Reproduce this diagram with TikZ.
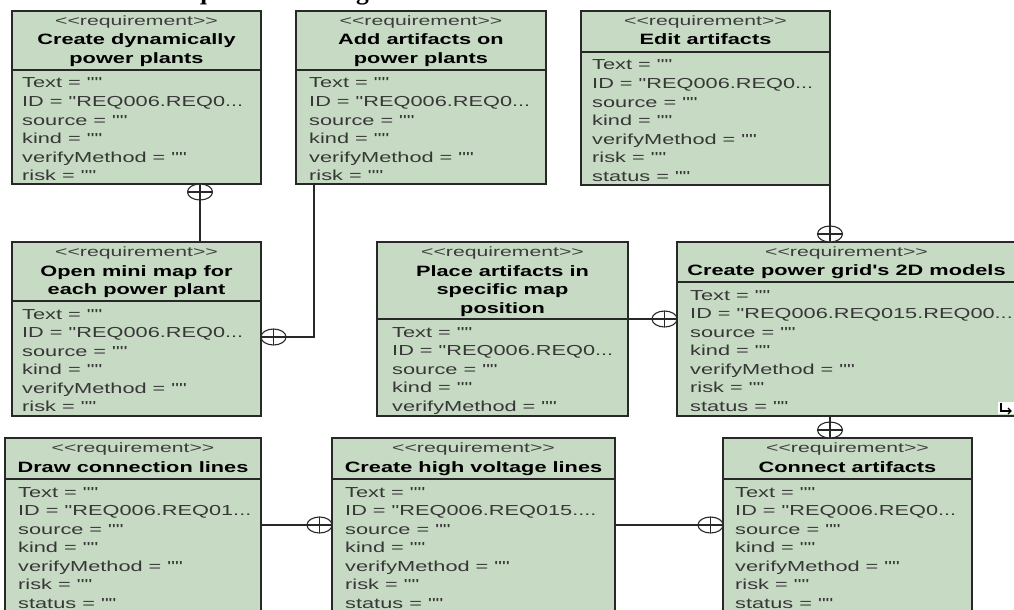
\documentclass[tikz,border=0pt]{standalone}
\usepackage{fontspec}
\setmainfont{Liberation Sans}
\newfontfamily\attrface{Liberation Sans}[FakeStretch=1.5]
\newfontfamily\stereoface{Liberation Sans}[FakeStretch=1.57]
\newfontfamily\titleface{Liberation Sans}[FakeStretch=1.45]
\newfontfamily\headface{Liberation Serif}
\usetikzlibrary{shapes.geometric}

\definecolor{reqfill}{RGB}{199,219,196}
\definecolor{framec}{RGB}{40,40,40}
\definecolor{attrc}{RGB}{55,55,55}
\definecolor{stereoc}{RGB}{60,60,60}

\tikzset{
  reqbox/.style={draw=framec, line width=1.3pt, fill=reqfill, anchor=north west,
    inner sep=0pt, outer sep=0pt},
  sepline/.style={draw=framec, line width=1.1pt},
  attr/.style={anchor=base west, inner sep=0pt, text=attrc,
    font=\attrface\fontsize{14.5}{17}\selectfont},
  stereo/.style={anchor=base, inner sep=0pt, text=stereoc,
    font=\stereoface\fontsize{13.5}{16}\selectfont},
  rtitle/.style={anchor=base, inner sep=0pt, text=black,
    font=\titleface\bfseries\fontsize{15}{18}\selectfont},
  contain/.style={ellipse, draw=framec, line width=1.1pt, fill=white,
    minimum width=25pt, minimum height=16pt, inner sep=0pt, outer sep=0pt,
    path picture={\draw[framec, line width=1.1pt]
      (path picture bounding box.north) -- (path picture bounding box.south)
      (path picture bounding box.west) -- (path picture bounding box.east);}},
  conn/.style={draw=framec, line width=1.2pt},
}

% requirement box: name, left, top, right, bottom, compartment line
\newcommand\reqbox[6]{%
  \node[reqbox, minimum width=#4pt-#2pt, minimum height=#5pt-#3pt] (#1) at (#2,#3) {};
  \draw[sepline] (#2,#6) -- (#4,#6);
}
% attribute compartment: box name, x, first baseline, ID value, number of lines
\newcommand\attrblock[5]{%
  \node[attr] (#1-a1) at (#2,#3) {Text = ""};
  \node[attr] (#1-a2) at (#2,#3+18.5) {ID = "#4};
  \node[attr] (#1-a3) at (#2,#3+37) {source = ""};
  \node[attr] (#1-a4) at (#2,#3+55.5) {kind = ""};
  \node[attr] (#1-a5) at (#2,#3+74) {verifyMethod = ""};
  \ifnum#5>5 \node[attr] (#1-a6) at (#2,#3+92.5) {risk = ""};\fi
  \ifnum#5>6 \node[attr] (#1-a7) at (#2,#3+111) {status = ""};\fi
}
\newcommand\stereotxt{<\kern0pt<requirement>\kern0pt>}

\begin{document}
\begin{tikzpicture}[x=1pt,y=-1pt]
\useasboundingbox (0,0) rectangle (1014,610);
\clip (0,0) rectangle (1014,610);

% heading above the diagram
\node[anchor=base west, inner sep=0pt,
  font=\headface\bfseries\fontsize{25.5}{30}\selectfont] (head) at (163,-0.5) {Requirements diagram};

% ---- top row
\reqbox{b1}{12}{11}{261}{184}{70}
\node[stereo] (b1-s) at (136.5,25.5) {\stereotxt};
\node[rtitle] (b1-t1) at (136.5,45) {Create dynamically};
\node[rtitle] (b1-t2) at (136.5,63.5) {power plants};
\attrblock{b1}{22}{88}{REQ006.REQ0...}{6}

\reqbox{b2}{296}{11}{546}{184}{70}
\node[stereo] (b2-s) at (421,25.5) {\stereotxt};
\node[rtitle] (b2-t1) at (421,45) {Add artifacts on};
\node[rtitle] (b2-t2) at (421,63.5) {power plants};
\attrblock{b2}{309}{88}{REQ006.REQ0...}{6}

\reqbox{b3}{581}{11}{830}{185}{52}
\node[stereo] (b3-s) at (705.5,25.5) {\stereotxt};
\node[rtitle] (b3-t1) at (705.5,44.5) {Edit artifacts};
\attrblock{b3}{592}{70}{REQ006.REQ0...}{7}

% ---- middle row
\reqbox{b4}{12}{242}{261}{416}{301}
\node[stereo] (b4-s) at (136.5,256.5) {\stereotxt};
\node[rtitle] (b4-t1) at (136.5,276) {Open mini map for};
\node[rtitle] (b4-t2) at (136.5,294.5) {each power plant};
\attrblock{b4}{22}{319}{REQ006.REQ0...}{6}

\reqbox{b5}{377}{242}{628}{416}{319}
\node[stereo] (b5-s) at (502.5,256.5) {\stereotxt};
\node[rtitle] (b5-t1) at (502.5,276) {Place artifacts in};
\node[rtitle] (b5-t2) at (502.5,294.5) {specific map};
\node[rtitle] (b5-t3) at (502.5,313) {position};
\attrblock{b5}{392}{337}{REQ006.REQ0...}{5}

\reqbox{b6}{677}{242}{1016}{416}{282}
\node[stereo] (b6-s) at (846.5,256.5) {\stereotxt};
\node[rtitle] (b6-t1) at (846.5,275.5) {Create power grid's 2D models};
\attrblock{b6}{690}{300}{REQ006.REQ015.REQ00...}{7}
% link marker in the corner
\fill[white] (998,402) rectangle (1016,414);
\draw[black, line width=1.5pt] (1001,403) -- (1001,411) -- (1011,411);
\draw[black, line width=1.1pt] (1008,408) -- (1011,411) -- (1008,414);

% ---- bottom row
\reqbox{b7}{5}{438}{261}{640}{479}
\node[stereo] (b7-s) at (133,452.5) {\stereotxt};
\node[rtitle] (b7-t1) at (133,472) {Draw connection lines};
\attrblock{b7}{18}{497}{REQ006.REQ01...}{7}

\reqbox{b8}{332}{438}{615}{640}{479}
\node[stereo] (b8-s) at (473.5,452.5) {\stereotxt};
\node[rtitle] (b8-t1) at (473.5,472) {Create high voltage lines};
\attrblock{b8}{345}{497}{REQ006.REQ015....}{7}

\reqbox{b9}{723}{438}{972}{640}{479}
\node[stereo] (b9-s) at (847.5,452.5) {\stereotxt};
\node[rtitle] (b9-t1) at (847.5,472) {Connect artifacts};
\attrblock{b9}{735}{497}{REQ006.REQ0...}{7}

% ---- containment ends
\node[contain, anchor=north] (k1) at (200,184) {};
\node[contain, anchor=west]  (k2) at (261,337) {};
\node[contain, anchor=south] (k3) at (830,242) {};
\node[contain, anchor=east]  (k4) at (677,319) {};
\node[contain, anchor=south] (k5) at (830,438) {};
\node[contain, anchor=east]  (k6) at (332,525) {};
\node[contain, anchor=east]  (k7) at (723,525) {};

% ---- connectors
\draw[conn] (k1.south) -- (k1.south |- b4.north);
\draw[conn] ([xshift=18pt]b2.south west) |- (k2.east);
\draw[conn] (b3.south east) -- (k3.north);
\draw[conn] (b5.east |- k4.west) -- (k4.west);
\draw[conn] (b6.south -| k5.north) -- (k5.north);
\draw[conn] (b7.east |- k6.west) -- (k6.west);
\draw[conn] (b8.east |- k7.west) -- (k7.west);
\end{tikzpicture}
\end{document}
